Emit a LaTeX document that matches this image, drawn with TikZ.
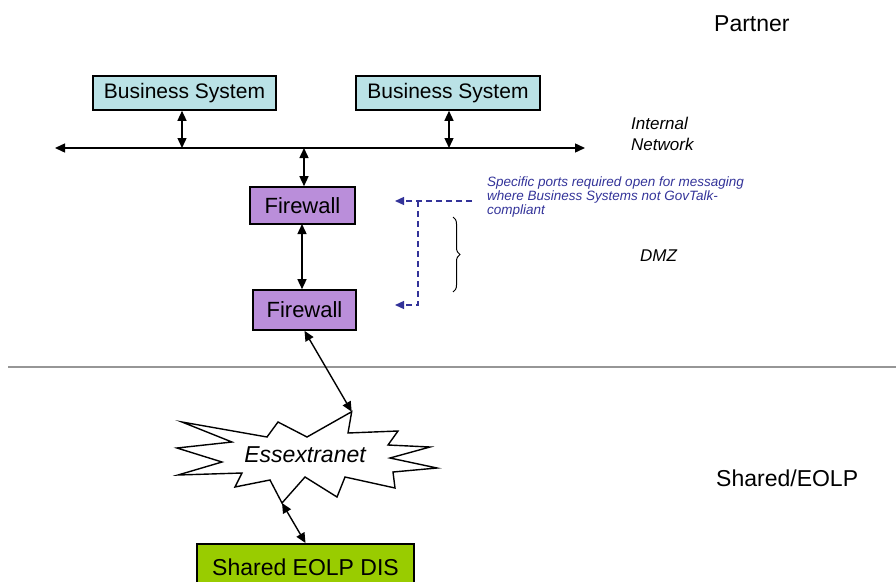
\documentclass[tikz,border=0pt]{standalone}
\usepackage{fontspec}
\setmainfont{Liberation Sans}
\usetikzlibrary{arrows.meta,decorations.pathreplacing}
\definecolor{bscyan}{RGB}{186,226,230}
\definecolor{fwpurple}{RGB}{186,142,218}
\definecolor{eolpgreen}{RGB}{153,204,0}
\definecolor{noteblue}{RGB}{51,51,153}
\definecolor{sepgray}{RGB}{150,150,150}
\tikzset{
  box/.style={draw=black, line width=1.6pt, inner sep=0pt},
  conn/.style={line width=1.4pt, {Triangle[length=10pt,width=9pt]}-{Triangle[length=10pt,width=9pt]}},
  lbl/.style={font=\fontsize{23}{27}\selectfont, inner sep=0pt},
  ilbl/.style={font=\fontsize{17}{21}\selectfont\itshape, inner sep=0pt, align=left},
  dashblue/.style={draw=noteblue, line width=1.3pt, dash pattern=on 6pt off 4pt},
}
\begin{document}
\begin{tikzpicture}[x=1pt,y=-1pt]
\useasboundingbox (0,0) rectangle (896,581);
\clip (0,0) rectangle (896,581);
% boxes
\node[box, fill=bscyan, minimum width=183pt, minimum height=34pt, font=\fontsize{21}{25}\selectfont] (bs1) at (184.5,93) {Business System};
\node[box, fill=bscyan, minimum width=184pt, minimum height=34pt, font=\fontsize{21}{25}\selectfont] (bs2) at (448,93) {Business System};
\node[box, fill=fwpurple, minimum width=105pt, minimum height=37pt, font=\fontsize{22}{26}\selectfont] (fw1) at (302.5,205.5) {Firewall};
\node[box, fill=fwpurple, minimum width=103pt, minimum height=40pt, font=\fontsize{22}{26}\selectfont] (fw2) at (304.5,310) {Firewall};
\node[box, fill=eolpgreen, minimum width=217pt, minimum height=46pt, anchor=north, font=\fontsize{23}{27}\selectfont] (shared) at (305.5,543) {Shared EOLP DIS};
% network
\coordinate (netL) at (55,148);
\coordinate (netR) at (585,148);
\coordinate (n1) at (182,148);
\coordinate (n2) at (449,148);
\coordinate (n3) at (304,148);
\draw[conn] (netL) -- (netR);
\draw[conn] (n1 |- bs1.south) -- (n1);
\draw[conn] (n2 |- bs2.south) -- (n2);
\draw[conn] (n3) -- (n3 |- fw1.north);
\coordinate (f1) at (302,224);
\draw[conn] (f1) -- (f1 |- fw2.north);
% separator
\coordinate (sepL) at (8,367);
\coordinate (sepR) at (896,367);
\draw[sepgray, line width=2pt] (sepL) -- (sepR);
% star
\coordinate (startop) at (351.7,411.7);
\coordinate (starbot) at (282,503);
\draw[line width=1.4pt, fill=white, line join=miter]
  (startop) -- (348,433) -- (398,431) -- (388,445) -- (430,447) -- (390,458) -- (437,468)
  -- (393,472) -- (395,488) -- (345,477) -- (337,497) -- (305,477) -- (starbot)
  -- (270,480) -- (235,487) -- (242,473) -- (178,475) -- (222,462) -- (177,448)
  -- (232,442) -- (182,422) -- (267,437) -- (278,422) -- (307,437) -- cycle;
\node[font=\fontsize{23}{27}\selectfont\itshape, inner sep=0pt] (ess) at (305,455) {Essextranet};
\draw[conn] (fw2.south) -- (startop);
\draw[conn] (starbot) -- (shared.north);
% labels
\node[lbl, anchor=west] (partner) at (714,24) {Partner};
\node[lbl, anchor=west] (sheolp) at (716,478) {Shared/EOLP};
\node[ilbl, anchor=north west] (intnet) at (631,117) {Internal\\Network};
\node[ilbl, anchor=west] (dmz) at (640,256) {DMZ};
\node[font=\fontsize{13.5}{14}\selectfont\itshape, text=noteblue, inner sep=0pt, align=left, anchor=north west] (note) at (487,177)
  {Specific ports required open for messaging\\where Business Systems not GovTalk-\\compliant};
% dashed arrows
\coordinate (dstart) at (472,201);
\coordinate (dcorner) at (418,201);
\coordinate (dlow) at (418,305);
\coordinate (dtip1) at (395,201);
\coordinate (dtip2) at (395,305);
\draw[dashblue, -{Triangle[length=9pt,width=8pt]}, line join=miter] (dstart) -- (dtip1);
\draw[dashblue, -{Triangle[length=9pt,width=8pt]}] (dcorner) -- (dlow) -- (dtip2);
% brace
\coordinate (brT) at (453,217);
\coordinate (brB) at (453,292);
\draw[line width=1pt, decorate, decoration={brace, amplitude=7pt}] (brT) -- (brB);
\end{tikzpicture}
\end{document}
